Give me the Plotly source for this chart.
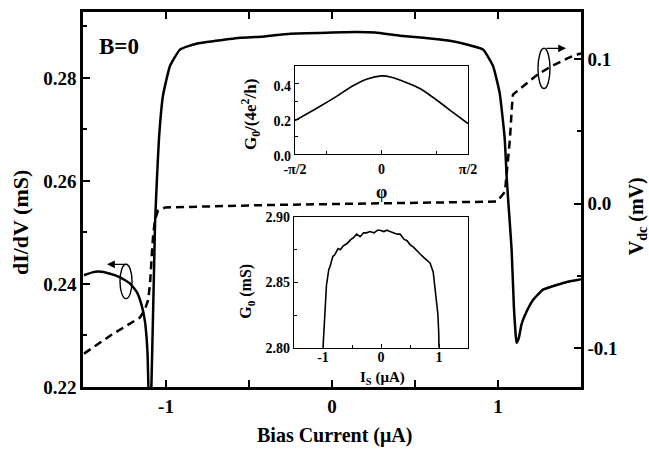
import plotly.graph_objects as go
import math

# ---------------- data ----------------
# main: dI/dV (mS) vs bias current (uA)
bias_I = [-1.494, -1.438, -1.408, -1.337, -1.277, -1.217, -1.177, -1.147, -1.127, -1.117,
          -1.111, -1.106, -1.098, -1.088, -1.066, -1.054, -1.042, -1.018, -0.976, -0.916,
          -0.813, -0.70, -0.55, -0.43, -0.25, 0.0, 0.15, 0.26, 0.41, 0.55,
          0.71, 0.80, 0.91, 0.97, 1.01, 1.04, 1.052, 1.062, 1.082, 1.096,
          1.106, 1.112, 1.126, 1.142, 1.173, 1.211, 1.271, 1.353, 1.414, 1.482, 1.5]
didv = [0.2417, 0.2423, 0.2424, 0.2420, 0.2413, 0.2401, 0.2385, 0.2359, 0.2328, 0.2296,
        0.2264, 0.2200, 0.2150, 0.2200, 0.2518, 0.2608, 0.2684, 0.2766, 0.2823, 0.2855,
        0.2867, 0.2872, 0.2878, 0.2880, 0.2886, 0.2888, 0.2889, 0.2888, 0.2882, 0.2878,
        0.2872, 0.2866, 0.2855, 0.2823, 0.2771, 0.2684, 0.2610, 0.2560, 0.2467, 0.2353,
        0.2303, 0.2286, 0.2296, 0.2322, 0.2347, 0.2369, 0.2389, 0.2398, 0.2404, 0.2408, 0.2409]

# main: Vdc (mV) vs bias current (uA)
vdc_I = [-1.494, -1.33, -1.157, -1.127, -1.107, -1.096, -1.086, -1.077, -1.066, -1.048,
         -1.006, -0.8, -0.4, 0.0, 0.4, 0.8, 0.994, 1.042, 1.054, 1.072,
         1.084, 1.090, 1.133, 1.235, 1.313, 1.434, 1.482, 1.5]
vdc = [-0.1039, -0.0910, -0.0789, -0.0733, -0.0665, -0.0551, -0.0367, -0.0211, -0.0110, -0.0048,
       -0.0027, -0.0020, -0.0010, -0.0003, 0.0002, 0.0008, 0.0014, 0.0082, 0.0218, 0.0449,
       0.0673, 0.0755, 0.0796, 0.0891, 0.0946, 0.1014, 0.1034, 0.1040]

# inset 1: G0/(4e^2/h) vs phi (in units of pi/2)
phi_frac = [-1.0, -0.86, -0.70, -0.51, -0.33, -0.165, 0.0, 0.104, 0.3, 0.45, 0.68, 0.83, 1.0]
g0_norm = [0.191, 0.230, 0.275, 0.331, 0.388, 0.427, 0.444, 0.438, 0.404, 0.371, 0.292, 0.236, 0.174]

# inset 2: G0 (mS) vs Is (uA)
is_I = [-1.0, -0.985, -0.966, -0.94, -0.90, -0.88, -0.83, -0.80, -0.74, -0.70, -0.65, -0.58,
        -0.52, -0.48, -0.42, -0.36, -0.30, -0.25, -0.19, -0.12, -0.06, -0.02, 0.05, 0.10,
        0.155, 0.22, 0.28, 0.33, 0.40, 0.45, 0.5, 0.56, 0.62, 0.67, 0.74, 0.80, 0.845,
        0.90, 0.93, 0.96, 0.98, 0.995, 1.0]
g0_ms = [2.800, 2.815, 2.830, 2.848, 2.860, 2.862, 2.870, 2.871, 2.876, 2.875, 2.878, 2.880,
         2.883, 2.884, 2.887, 2.885, 2.888, 2.888, 2.889, 2.888, 2.890, 2.890, 2.889, 2.890,
         2.889, 2.888, 2.887, 2.887, 2.883, 2.882, 2.879, 2.877, 2.874, 2.872, 2.869, 2.867, 2.865,
         2.858, 2.847, 2.835, 2.826, 2.812, 2.800]

left_ticks = [0.22, 0.24, 0.26, 0.28]
left_ticktext = ["0.22", "0.24", "0.26", "0.28"]
right_ticks = [-0.1, 0.0, 0.1]
right_ticktext = ["-0.1", "0.0", "0.1"]
bottom_ticks = [-1, 0, 1]
bottom_ticktext = ["-1", "0", "1"]

# ---------------- layout helpers ----------------
W, H = 649, 449
L, R, T, B = 83, 581, 5, 387


def px(xp):
    return (xp - L) / (R - L)


def py(yp):
    return (B - yp) / (B - T)


FONT = "Liberation Serif"

fig = go.Figure()

fig.add_trace(go.Scatter(x=bias_I, y=didv, mode="lines", xaxis="x", yaxis="y",
                         line=dict(color="black", width=2.5, shape="spline", smoothing=0.4),
                         showlegend=False))
fig.add_trace(go.Scatter(x=vdc_I, y=vdc, mode="lines", xaxis="x", yaxis="y2",
                         line=dict(color="black", width=2.5, dash="8px,5px"),
                         showlegend=False))
phi = [p * math.pi / 2 for p in phi_frac]
fig.add_trace(go.Scatter(x=phi, y=g0_norm, mode="lines", xaxis="x3", yaxis="y3",
                         line=dict(color="black", width=1.6, shape="spline", smoothing=0.6),
                         showlegend=False))
fig.add_trace(go.Scatter(x=is_I, y=g0_ms, mode="lines", xaxis="x4", yaxis="y4",
                         line=dict(color="black", width=1.6),
                         showlegend=False))

tickfont_main = dict(family=FONT, size=19, color="black", weight="bold")
tickfont_in = dict(family=FONT, size=14, color="black", weight="bold")

main_ax = dict(showline=True, linewidth=2.5, linecolor="black", ticks="inside",
               ticklen=7, tickwidth=2, tickcolor="black", showgrid=False, zeroline=False,
               tickfont=tickfont_main)

fig.update_layout(
    width=W, height=H,
    margin=dict(l=L, r=W - R, t=T, b=H - B, pad=0),
    paper_bgcolor="white", plot_bgcolor="white",
    xaxis=dict(main_ax, domain=[0, 1], range=[-1.5, 1.5], tickmode="array",
               tickvals=bottom_ticks, ticktext=bottom_ticktext, mirror="allticks",
               anchor="y",
               minor=dict(tickmode="array", tickvals=[-1.5, -0.5, 0.5, 1.5], ticks="inside",
                          ticklen=4, tickwidth=2, tickcolor="black")),
    yaxis=dict(main_ax, domain=[0, 1], range=[0.22, 0.2928], tickmode="array",
               tickvals=left_ticks, ticktext=left_ticktext, anchor="x",
               minor=dict(tickmode="array", tickvals=[0.23, 0.25, 0.27, 0.29], ticks="inside",
                          ticklen=4, tickwidth=2, tickcolor="black")),
    yaxis2=dict(main_ax, overlaying="y", side="right", range=[-0.127, 0.1327],
                tickmode="array", tickvals=right_ticks, ticktext=right_ticktext, anchor="x",
                minor=dict(tickmode="array", tickvals=[-0.05, 0.05], ticks="inside",
                           ticklen=4, tickwidth=2, tickcolor="black")),
)

in_ax = dict(showline=True, linewidth=1.2, linecolor="black", mirror=True, ticks="inside",
             ticklen=4, tickwidth=1.2, tickcolor="black", showgrid=False, zeroline=False,
             tickfont=tickfont_in)

fig.update_layout(
    xaxis3=dict(in_ax, domain=[px(295), px(468)], anchor="y3",
                range=[-math.pi / 2, math.pi / 2], tickmode="array",
                tickvals=[-math.pi / 2, 0, math.pi / 2], ticktext=["-π/2", "0", "π/2"],
                ticklabelstandoff=2,
                minor=dict(tickmode="array", tickvals=[-1, 1], ticks="inside", ticklen=3,
                           tickwidth=1.2, tickcolor="black")),
    yaxis3=dict(in_ax, domain=[py(150), py(60)], anchor="x3", range=[0, 0.5],
                tickmode="array", tickvals=[0.0, 0.2, 0.4], ticktext=["0.0", "0.2", "0.4"],
                ticklabelshift=2,
                minor=dict(tickmode="array", tickvals=[0.1, 0.3], ticks="inside", ticklen=3,
                           tickwidth=1.2, tickcolor="black")),
    xaxis4=dict(in_ax, domain=[px(294), px(468)], anchor="y4", range=[-1.5, 1.5],
                tickmode="array", tickvals=[-1, 0, 1], ticktext=["-1", "0", "1"],
                ticklabelstandoff=-4,
                minor=dict(tickmode="array", tickvals=[-0.5, 0.5], ticks="inside", ticklen=3,
                           tickwidth=1.2, tickcolor="black")),
    yaxis4=dict(in_ax, domain=[py(347), py(214)], anchor="x4", range=[2.80, 2.90],
                tickmode="array", tickvals=[2.80, 2.85, 2.90], ticktext=["2.80", "2.85", "2.90"],
                minor=dict(tickmode="array", tickvals=[2.825, 2.875], ticks="inside", ticklen=3,
                           tickwidth=1.2, tickcolor="black")),
)


def ann(text, x, y, size, angle=0, xanchor="center", yanchor="middle", bold=True):
    fig.add_annotation(text=text, x=px(x), y=py(y), xref="paper", yref="paper",
                       showarrow=False, textangle=angle, xanchor=xanchor, yanchor=yanchor,
                       font=dict(family=FONT, size=size, color="black",
                                 weight="bold" if bold else "normal"))


ann("Bias Current (μA)", 334, 436, 20)
ann("dI/dV (mS)", 20, 220, 22, angle=-90)
ann("V<sub>dc</sub> (mV)", 637, 213, 20, angle=-90)
ann("B=0", 97, 40, 23, xanchor="left")
ann("G<sub>0</sub>/(4e<sup>2</sup>/h)", 250, 110, 17, angle=-90)
ann("φ", 381, 188, 18)
ann("G<sub>0</sub> (mS)", 247, 290, 16, angle=-90)
ann("I<sub>S</sub> (μA)", 382, 378, 15)

# ovals marking which axis each curve uses
fig.add_shape(type="circle", xref="paper", yref="paper",
              x0=px(120), x1=px(132), y0=py(297), y1=py(262),
              line=dict(color="black", width=1.4))
fig.add_shape(type="circle", xref="paper", yref="paper",
              x0=px(538), x1=px(550), y0=py(83), y1=py(42),
              line=dict(color="black", width=1.4))
fig.add_annotation(x=px(107), y=py(262), xref="paper", yref="paper", text="",
                   showarrow=True, ax=20, ay=0, arrowhead=2, arrowsize=1.2,
                   arrowwidth=1.3, arrowcolor="black")
fig.add_annotation(x=px(566), y=py(42), xref="paper", yref="paper", text="",
                   showarrow=True, ax=-21, ay=0, arrowhead=2, arrowsize=1.2,
                   arrowwidth=1.3, arrowcolor="black")

fig.write_html("out.html", config={"displayModeBar": False},
               post_script="document.body.style.margin='0px';")
